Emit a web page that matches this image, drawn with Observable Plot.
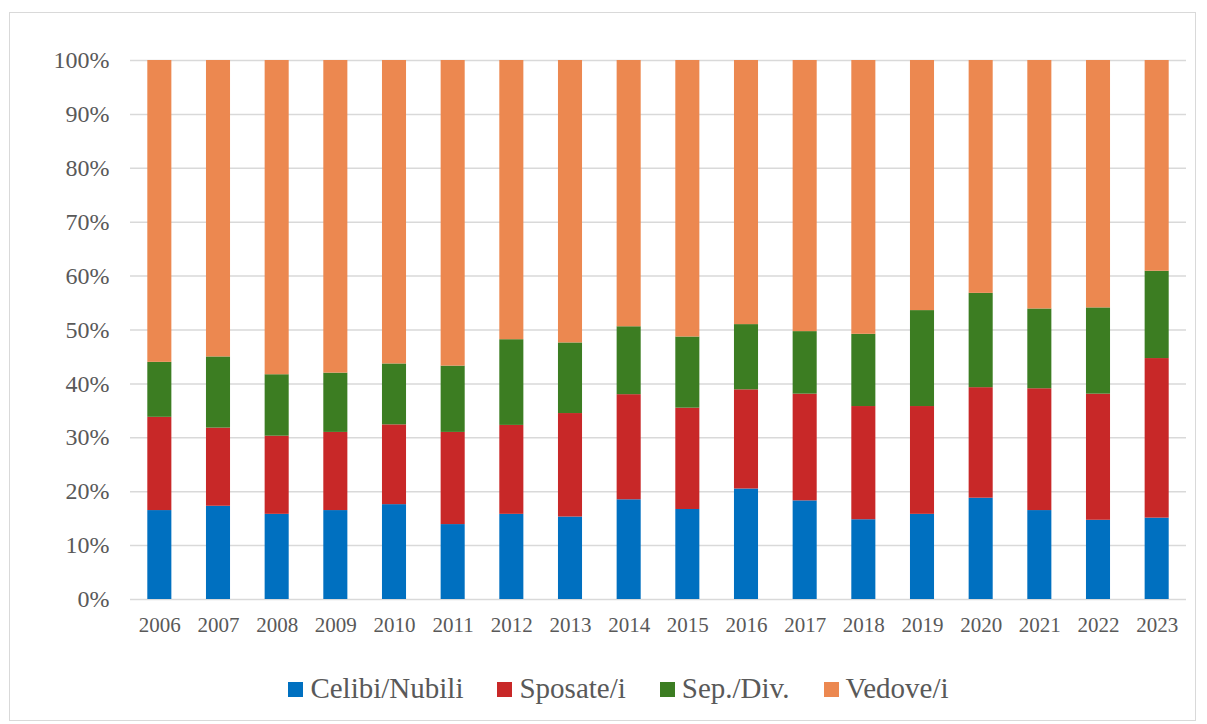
<!DOCTYPE html>
<html>
<head>
<meta charset="utf-8">
<script src="https://cdn.jsdelivr.net/npm/d3@7"></script>
<script src="https://cdn.jsdelivr.net/npm/@observablehq/plot@0.6"></script>
<style>
  html, body { margin: 0; padding: 0; background: #fff; }
  #wrap { position: relative; width: 1207px; height: 724px; font-family: "Liberation Serif", "Times New Roman", serif; }
  #frame { position: absolute; left: 9px; top: 12px; width: 1187px; height: 709px; border: 1px solid #d9d9d9; box-sizing: border-box; pointer-events: none; }
  #chart { position: absolute; left: 0; top: 0; }
  #chart svg text { font-family: "Liberation Serif", "Times New Roman", serif; }
  #legend { position: absolute; left: 0; top: 672px; width: 1207px; display: flex; justify-content: center; align-items: center; gap: 34px; font-size: 29px; line-height: 32px; color: #595959; padding-left: 30px; box-sizing: border-box; }
  .item { display: flex; align-items: center; gap: 7px; }
  .sw { width: 15px; height: 15px; display: inline-block; margin-top: 3px; }
</style>
</head>
<body>
<div id="wrap">
  <div id="chart"></div>
  <div id="legend"></div>
  <div id="frame"></div>
</div>
<script>
const years = ["2006","2007","2008","2009","2010","2011","2012","2013","2014","2015","2016","2017","2018","2019","2020","2021","2022","2023"];
const seriesNames = ["Celibi/Nubili","Sposate/i","Sep./Div.","Vedove/i"];
const seriesColors = ["#0070C0","#C82828","#3C7D22","#EC8850"];
const celibi  = [16.5,17.3,15.8,16.5,17.6,13.9,15.8,15.3,18.5,16.7,20.5,18.3,14.8,15.8,18.8,16.5,14.7,15.1];
const sposate = [17.3,14.5,14.5,14.5,14.8,17.1,16.5,19.2,19.5,18.8,18.4,19.8,21.0,20.0,20.5,22.6,23.4,29.6];
const sepdiv  = [10.2,13.2,11.4,11.0,11.3,12.3,15.9,13.1,12.6,13.2,12.1,11.6,13.4,17.8,17.5,14.8,16.0,16.2];
const vedove  = [56.0,55.0,58.3,58.0,56.3,56.7,51.8,52.4,49.4,51.3,49.0,50.3,50.8,46.4,43.2,46.1,45.9,39.1];
const yTicks = [0,10,20,30,40,50,60,70,80,90,100];

const seriesValues = [celibi, sposate, sepdiv, vedove];
const data = [];
seriesNames.forEach((s, si) => {
  years.forEach((y, yi) => data.push({year: y, series: s, value: seriesValues[si][yi]}));
});

const serif = "'Liberation Serif', 'Times New Roman', serif";

const chart = Plot.plot({
  width: 1207,
  height: 650,
  marginTop: 60,
  marginBottom: 51,
  marginLeft: 130,
  marginRight: 21,
  style: { fontFamily: serif, color: "#595959", background: "transparent" },
  x: { domain: years, paddingInner: 0.59, paddingOuter: 0.295, round: false, label: null },
  y: { domain: [0, 100], label: null },
  color: { domain: seriesNames, range: seriesColors },
  marks: [
    Plot.ruleY(yTicks, { stroke: "#d9d9d9", strokeWidth: 1.5 }),
    Plot.barY(data, Plot.stackY({ x: "year", y: "value", fill: "series", order: seriesNames })),
    Plot.axisX({ tickSize: 0, tickPadding: 18, fontSize: 21, fontFamily: serif, fill: "#595959", label: null }),
    Plot.axisY({ ticks: yTicks, tickSize: 0, tickPadding: 21, fontSize: 24, fontFamily: serif, fill: "#595959", tickFormat: d => d + "%", label: null })
  ]
});
document.getElementById("chart").appendChild(chart);

const legend = document.getElementById("legend");
seriesNames.forEach((s, i) => {
  const it = document.createElement("div");
  it.className = "item";
  const sw = document.createElement("span");
  sw.className = "sw";
  sw.style.background = seriesColors[i];
  const t = document.createElement("span");
  t.textContent = s;
  it.appendChild(sw); it.appendChild(t);
  legend.appendChild(it);
});
</script>
</body>
</html>
